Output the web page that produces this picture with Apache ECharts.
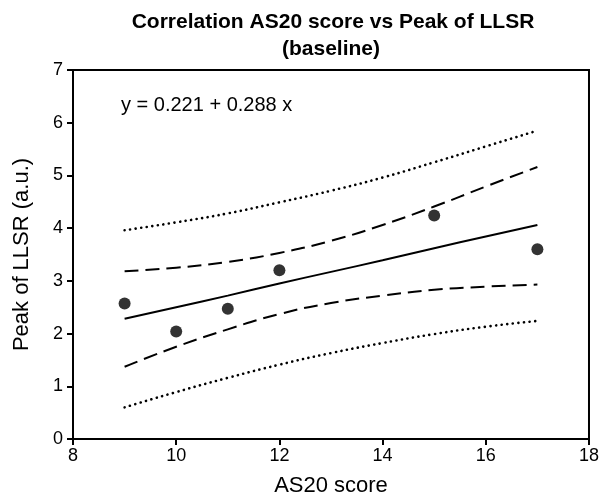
<!DOCTYPE html>
<html>
<head>
<meta charset="utf-8">
<script src="https://cdn.jsdelivr.net/npm/echarts@6/dist/echarts.min.js"></script>
<style>html,body{margin:0;padding:0;background:#fff;}#c{width:602px;height:502px;}</style>
</head>
<body>
<div id="c"></div>
<script>
// Observed data
var scoreX = [9, 10, 11, 12, 15, 17];
var peakY = [2.57, 2.04, 2.47, 3.20, 4.24, 3.60];
// Curves
var curveX = [9, 10, 11, 12, 13, 14, 15, 16, 17];
var fitY   = [2.28, 2.50, 2.72, 2.95, 3.17, 3.39, 3.62, 3.84, 4.06];
var ciUp   = [3.18, 3.25, 3.36, 3.53, 3.76, 4.06, 4.41, 4.79, 5.16];
var ciLow  = [1.37, 1.75, 2.08, 2.37, 2.58, 2.72, 2.83, 2.89, 2.93];
var piUp   = [3.96, 4.11, 4.28, 4.49, 4.71, 4.96, 5.25, 5.55, 5.85];
var piLow  = [0.60, 0.89, 1.16, 1.41, 1.63, 1.82, 1.99, 2.13, 2.24];
var xTicks = [8, 10, 12, 14, 16, 18];
var yTicks = [0, 1, 2, 3, 4, 5, 6, 7];
var titleLine1 = 'Correlation AS20 score vs Peak of LLSR';
var titleLine2 = '(baseline)';
var equationText = 'y = 0.221 + 0.288 x';

function pairs(xs, ys) { return xs.map(function (x, i) { return [x, ys[i]]; }); }
var FONT = '"Liberation Sans", Arial, sans-serif';

var chart = echarts.init(document.getElementById('c'), null, {renderer: 'canvas'});
function lineSeries(ys, type, dash) {
  return {
    type: 'line', data: pairs(curveX, ys), showSymbol: false, smooth: true,
    lineStyle: {color: '#000', width: type === 'dotted' ? 2.6 : 2, type: dash || type, cap: type === 'dotted' ? 'round' : 'butt'},
    silent: true, z: 3
  };
}
var titleStyle = {fontFamily: FONT, fontSize: 21, fontWeight: 'bold', color: '#000'};
chart.setOption({
  animation: false,
  backgroundColor: '#fff',
  title: [
    {text: titleLine1, left: 333, top: 12, textAlign: 'center', padding: 0, textStyle: titleStyle},
    {text: titleLine2, left: 331, top: 39, textAlign: 'center', padding: 0, textStyle: titleStyle}
  ],
  graphic: [{
    type: 'text', left: 121, top: 95,
    style: {text: equationText, font: '20px ' + FONT, fill: '#000'}
  }],
  grid: {left: 73, right: 9, top: 70, bottom: 59, show: true, borderColor: '#000', borderWidth: 2, backgroundColor: 'transparent'},
  xAxis: {
    type: 'value', min: xTicks[0], max: xTicks[xTicks.length - 1], interval: 2,
    name: 'AS20 score', nameLocation: 'middle', nameGap: 36,
    nameTextStyle: {fontFamily: FONT, fontSize: 22, color: '#000'},
    axisLine: {lineStyle: {color: '#000', width: 2}},
    axisTick: {show: true, length: 6, lineStyle: {color: '#000', width: 2}},
    axisLabel: {fontFamily: FONT, fontSize: 18, color: '#000', margin: 8},
    splitLine: {show: false}
  },
  yAxis: {
    type: 'value', min: yTicks[0], max: yTicks[yTicks.length - 1], interval: 1,
    name: 'Peak of LLSR (a.u.)', nameLocation: 'middle', nameGap: 40, nameRotate: 90,
    nameTextStyle: {fontFamily: FONT, fontSize: 22, color: '#000'},
    axisLine: {lineStyle: {color: '#000', width: 2}},
    axisTick: {show: true, length: 6, lineStyle: {color: '#000', width: 2}},
    axisLabel: {fontFamily: FONT, fontSize: 18, color: '#000', margin: 10},
    splitLine: {show: false}
  },
  series: [
    lineSeries(fitY, 'solid'),
    lineSeries(ciUp, 'dashed', [14, 7]),
    lineSeries(ciLow, 'dashed', [14, 7]),
    lineSeries(piUp, 'dotted', [0.1, 5.5]),
    lineSeries(piLow, 'dotted', [0.1, 5.5]),
    {
      type: 'scatter', data: pairs(scoreX, peakY), symbol: 'circle', symbolSize: 12,
      itemStyle: {color: '#000'}, z: 4
    }
  ]
});
</script>
</body>
</html>
